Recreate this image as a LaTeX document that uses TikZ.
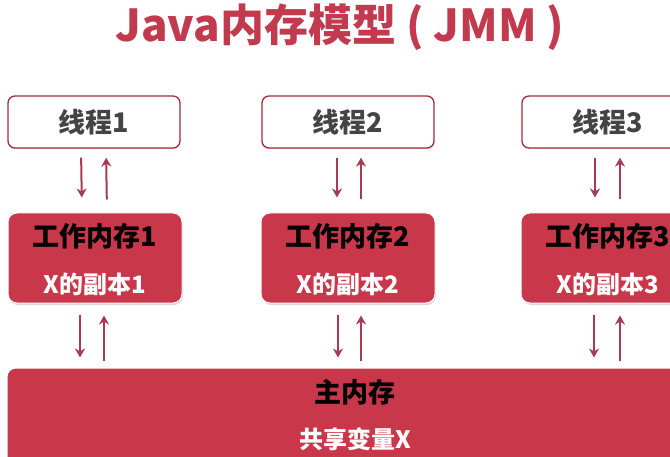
\documentclass[tikz,border=0pt]{standalone}
\usepackage{fontspec}
\setmainfont{Noto Sans CJK SC}
\usetikzlibrary{arrows.meta,shadows}
\definecolor{JmmRed}{HTML}{C9374A}
\definecolor{JmmTitle}{HTML}{C23A4E}
\definecolor{JmmArrow}{HTML}{A93A52}
\definecolor{JmmGray}{HTML}{444444}

\begin{document}
\begin{tikzpicture}[x=1pt,y=1pt,>={Stealth[length=9pt,width=10pt]},
  font=\bfseries\fontsize{27}{30}\selectfont,
  thread/.style={draw=JmmRed!80!black,line width=1.3pt,fill=white,rounded corners=7pt,
    minimum width=172pt,minimum height=52pt,text=JmmGray,
    drop shadow={opacity=0.25,fill=JmmRed,shadow xshift=0pt,shadow yshift=-1pt}},
  work/.style={draw=white,line width=1pt,fill=JmmRed,rounded corners=9pt,
    minimum width=174pt,minimum height=90pt,
    drop shadow={opacity=0.3,shadow xshift=1pt,shadow yshift=-2pt}},
  copytext/.style={text=white,font=\bfseries\fontsize{24}{28}\selectfont},
  flow/.style={->,line width=2pt,JmmArrow}]
  \clip (0,0) rectangle (670,456);
  \node[font=\bfseries\fontsize{44}{48}\selectfont,text=JmmTitle] (title) at (340,429)
    {Java内存模型 ( JMM )};
  % threads
  \node[thread] (thread1) at (94,334) {线程1};
  \node[thread] (thread2) at (348,334) {线程2};
  \node[thread] (thread3) at (608,334) {线程3};
  % working memory
  \node[work] (work1) at (95,198) {};
  \node[work] (work2) at (348,198) {};
  \node[work] (work3) at (608,198) {};
  \node (name1) at ([yshift=-24pt]work1.north) {工作内存1};
  \node (name2) at ([yshift=-24pt]work2.north) {工作内存2};
  \node (name3) at ([yshift=-24pt]work3.north) {工作内存3};
  \node[copytext] (copy1) at ([yshift=19pt]work1.south) {X的副本1};
  \node[copytext] (copy2) at ([yshift=19pt]work2.south) {X的副本2};
  \node[copytext] (copy3) at ([yshift=19pt]work3.south) {X的副本3};
  % main memory
  \node[work,minimum width=696pt,minimum height=104pt] (main) at (355,36) {};
  \node (mainname) at ([yshift=-25pt]main.north) {主内存};
  \node[copytext] (shared) at ([yshift=-72pt]main.north) {共享变量X};
  % arrows
  \draw[flow,shorten <=9pt,shorten >=15pt] ([xshift=-13pt]thread1.south)--([xshift=-13pt]work1.north);
  \draw[flow,shorten <=13pt,shorten >=9pt] ([xshift=12pt]work1.north)--([xshift=12pt]thread1.south);
  \draw[flow,shorten <=9pt,shorten >=15pt] ([xshift=-11pt]thread2.south)--([xshift=-11pt]work2.north);
  \draw[flow,shorten <=13pt,shorten >=9pt] ([xshift=13pt]work2.north)--([xshift=13pt]thread2.south);
  \draw[flow,shorten <=9pt,shorten >=15pt] ([xshift=-13pt]thread3.south)--([xshift=-13pt]work3.north);
  \draw[flow,shorten <=13pt,shorten >=9pt] ([xshift=12pt]work3.north)--([xshift=12pt]thread3.south);
  \draw[flow,shorten <=11pt,shorten >=10pt] ([xshift=-15pt]work1.south)--([xshift=-15pt]work1.south|-main.north);
  \draw[flow,shorten <=7pt,shorten >=12pt] ([xshift=9pt]work1.south|-main.north)--([xshift=9pt]work1.south);
  \draw[flow,shorten <=11pt,shorten >=10pt] ([xshift=-10pt]work2.south)--([xshift=-10pt]work2.south|-main.north);
  \draw[flow,shorten <=7pt,shorten >=12pt] ([xshift=13pt]work2.south|-main.north)--([xshift=13pt]work2.south);
  \draw[flow,shorten <=11pt,shorten >=10pt] ([xshift=-14pt]work3.south)--([xshift=-14pt]work3.south|-main.north);
  \draw[flow,shorten <=7pt,shorten >=12pt] ([xshift=12pt]work3.south|-main.north)--([xshift=12pt]work3.south);
\end{tikzpicture}
\end{document}
